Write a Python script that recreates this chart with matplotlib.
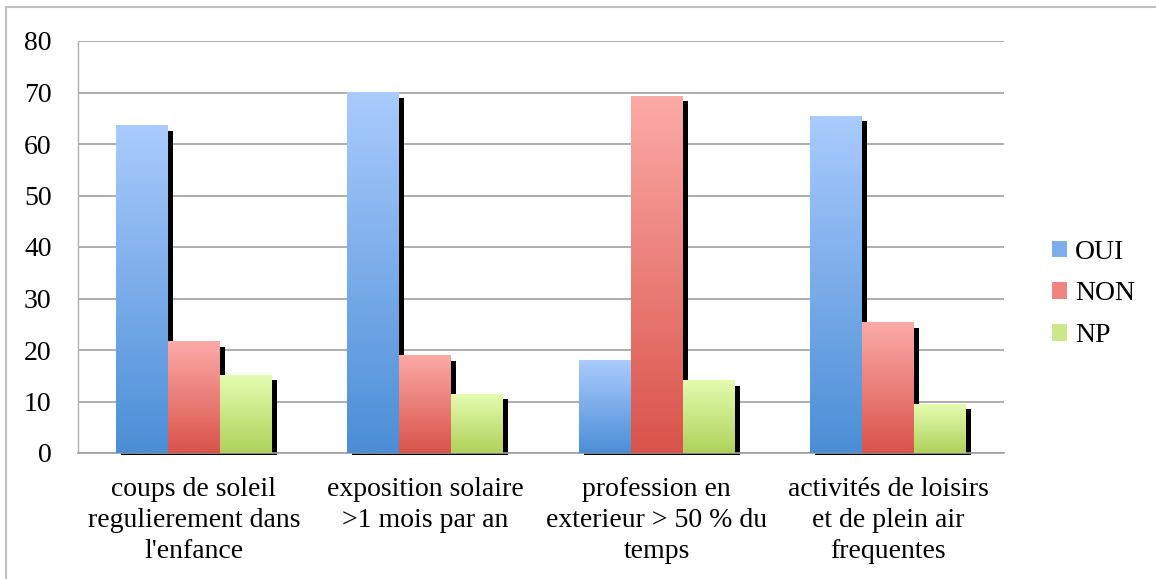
import numpy as np
import matplotlib
matplotlib.use("Agg")
import matplotlib.pyplot as plt
from matplotlib.colors import LinearSegmentedColormap
from matplotlib.patches import Patch
from matplotlib.lines import Line2D

categories = [
    "coups de soleil\nregulierement dans\nl'enfance",
    "exposition solaire\n>1 mois par an",
    "profession en\nexterieur > 50 % du\ntemps",
    "activités de loisirs\net de plein air\nfrequentes",
]
series = ["OUI", "NON", "NP"]
oui = [63.5, 70.0, 17.9, 65.4]
non = [21.6, 18.9, 69.3, 25.3]
np_vals = [15.1, 11.4, 14.0, 9.5]
values = [oui, non, np_vals]

# gradient colours (top, bottom) for each series
grads = [("#aacbfd", "#4b8ed6"), ("#fcaaa7", "#d9534a"), ("#e4fcb0", "#afd25a")]
mids = ["#7eaeea", "#ee8580", "#cbe789"]

plt.rcParams["font.family"] = ["Liberation Serif", "DejaVu Serif"]

fig = plt.figure(figsize=(11.56, 5.79), dpi=100)
ax = fig.add_axes([78 / 1156, 1 - 453 / 579, 926 / 1156, 412 / 579])

x = np.arange(len(categories))
bw = 0.2246
dx = 5 / 231.5     # shadow offset (px -> data)
dy = 1.0
grad = np.linspace(1, 0, 256).reshape(-1, 1)

for i, (vals, (ctop, cbot)) in enumerate(zip(values, grads)):
    cmap = LinearSegmentedColormap.from_list(series[i], [cbot, ctop])
    for j, v in enumerate(vals):
        left = x[j] + (i - 1.5) * bw
        # shadow
        ax.bar(left + dx, v - dy + 0.3, width=bw, bottom=-0.3, align="edge",
               color="black", zorder=2, clip_on=False)
        ax.imshow(grad, cmap=cmap, extent=[left, left + bw, 0, v],
                  aspect="auto", zorder=3 + i * 0.01 + j * 0.1, interpolation="bilinear")

ax.set_xlim(-0.5, len(categories) - 0.5)
ax.set_ylim(0, 80)
ax.set_yticks(range(0, 81, 10))
ax.set_xticks(x)
ax.set_xticklabels(categories, fontsize=20, linespacing=1.32)
ax.tick_params(axis="y", length=0, labelsize=20, pad=19)
ax.tick_params(axis="x", length=0, pad=17)
ax.yaxis.grid(True, color="#a0a0a0", linewidth=1.2)
ax.set_axisbelow(True)
for s in ["top", "right"]:
    ax.spines[s].set_visible(False)
ax.spines["left"].set_color("#b0b0b0")
ax.spines["bottom"].set_color("#a0a0a0")
ax.spines["left"].set_linewidth(1.0)
ax.spines["bottom"].set_linewidth(1.2)

handles = [Patch(facecolor=c, edgecolor="none") for c in mids]
fig.legend(handles, series, loc="center left", bbox_to_anchor=(1046 / 1156, 1 - 294 / 579),
           frameon=False, fontsize=20, handlelength=0.55, handleheight=0.55,
           handletextpad=0.3, labelspacing=0.6, borderpad=0.2, borderaxespad=0)

# outer chart border (top and left visible)
fig.add_artist(Line2D([6 / 1156, 6 / 1156], [0, 1 - 7 / 579], transform=fig.transFigure,
                      color="#c0c0c0", linewidth=1.5))
fig.add_artist(Line2D([6 / 1156, 1], [1 - 7 / 579, 1 - 7 / 579], transform=fig.transFigure,
                      color="#c0c0c0", linewidth=1.5))

fig.savefig("out.png", dpi=100)
